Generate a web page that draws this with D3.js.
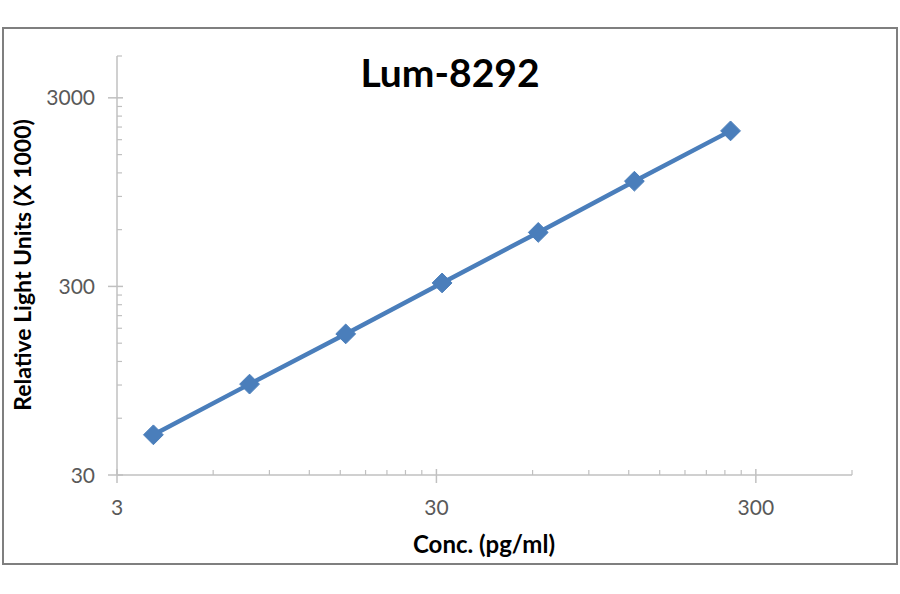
<!DOCTYPE html>
<html><head><meta charset="utf-8">
<script src="https://cdn.jsdelivr.net/npm/d3@7"></script>
<style>
html,body{margin:0;padding:0;background:#fff;}
svg{display:block;}
text{font-family:Lato,"Open Sans",sans-serif;}
</style></head>
<body>
<svg id="chart" width="900" height="594"></svg>
<script>
const title = "Lum-8292";
const xLabel = "Conc. (pg/ml)";
const yLabel = "Relative Light Units (X 1000)";
const conc = [3.9, 7.8, 15.6, 31.25, 62.5, 125, 250];
const rlu = [49, 91, 168, 313, 580, 1084, 2004];
const xTicks = [3, 30, 300];
const yTicks = [30, 300, 3000];
const xDomain = [3, 600];
const yDomain = [30, 5000];

const svg = d3.select("#chart");
svg.append("rect").attr("x",0).attr("y",0).attr("width",900).attr("height",594).attr("fill","#fff");
svg.append("rect").attr("x",3).attr("y",28).attr("width",894).attr("height",536)
  .attr("fill","none").attr("stroke","#7f7f7f").attr("stroke-width",2);

const x = d3.scaleLog().domain(xDomain).range([117, 852]);
const y = d3.scaleLog().domain(yDomain).range([475, 56]);

const axisColor = "#c0c0c0";
const g = svg.append("g");

function minors(majors, dom){
  const out = [];
  majors.forEach(m => { for(let k=2;k<=9;k++){ const v=m*k; if(v<dom[1]) out.push(v);} });
  out.push(dom[1]);
  return out;
}
const xMin = minors(xTicks, xDomain);
const yMin = minors(yTicks, yDomain);

g.append("line").attr("x1",x(xDomain[0])).attr("x2",x(xDomain[1])).attr("y1",y(yDomain[0])).attr("y2",y(yDomain[0]))
  .attr("stroke",axisColor).attr("stroke-width",1.5);
g.append("line").attr("x1",x(xDomain[0])).attr("x2",x(xDomain[0])).attr("y1",y(yDomain[0])).attr("y2",y(yDomain[1]))
  .attr("stroke",axisColor).attr("stroke-width",1.5);

const x0 = x(xDomain[0]), y0 = y(yDomain[0]);
g.selectAll(".xminor").data(xMin).enter().append("line")
  .attr("x1",d=>x(d)).attr("x2",d=>x(d)).attr("y1",y0).attr("y2",y0-5)
  .attr("stroke",axisColor).attr("stroke-width",1.2);
g.selectAll(".yminor").data(yMin).enter().append("line")
  .attr("y1",d=>y(d)).attr("y2",d=>y(d)).attr("x1",x0).attr("x2",x0+5)
  .attr("stroke",axisColor).attr("stroke-width",1.2);
g.selectAll(".xmajor").data(xTicks).enter().append("line")
  .attr("x1",d=>x(d)).attr("x2",d=>x(d)).attr("y1",y0-6).attr("y2",y0+8)
  .attr("stroke",axisColor).attr("stroke-width",1.5);
g.selectAll(".ymajor").data(yTicks).enter().append("line")
  .attr("y1",d=>y(d)).attr("y2",d=>y(d)).attr("x1",x0-9).attr("x2",x0+6)
  .attr("stroke",axisColor).attr("stroke-width",1.5);

g.selectAll(".xlab").data(xTicks).enter().append("text")
  .attr("x",d=>x(d)).attr("y",y0+40).attr("text-anchor","middle")
  .attr("font-size",21).attr("fill","#595959").text(d=>d);
g.selectAll(".ylab").data(yTicks).enter().append("text")
  .attr("x",x0-22).attr("y",d=>y(d)).attr("dy","0.36em").attr("text-anchor","end")
  .attr("font-size",21).attr("fill","#595959").text(d=>d);

const pts = conc.map((c,i)=>[c, rlu[i]]);
svg.append("path").datum(pts)
  .attr("d", d3.line().x(d=>x(d[0])).y(d=>y(d[1])))
  .attr("fill","none").attr("stroke","#4a7ebb").attr("stroke-width",4.5);
svg.selectAll(".pt").data(pts).enter().append("path")
  .attr("transform",d=>`translate(${x(d[0])},${y(d[1])})`)
  .attr("d", d3.symbol().type(d3.symbolDiamond2).size(250))
  .attr("fill","#4a7ebb").attr("stroke","#4a7ebb").attr("stroke-width",1);

svg.append("text").attr("x",450).attr("y",87).attr("text-anchor","middle")
  .attr("font-size",39).attr("font-weight","bold").attr("fill","#000").text(title);
svg.append("text").attr("x",484).attr("y",553).attr("text-anchor","middle")
  .attr("font-size",24).attr("font-weight","bold").attr("fill","#000").text(xLabel);
svg.append("text").attr("transform","translate(31,265) rotate(-90)").attr("text-anchor","middle")
  .attr("font-size",23).attr("font-weight","bold").attr("fill","#000").text(yLabel);
</script>
</body></html>
